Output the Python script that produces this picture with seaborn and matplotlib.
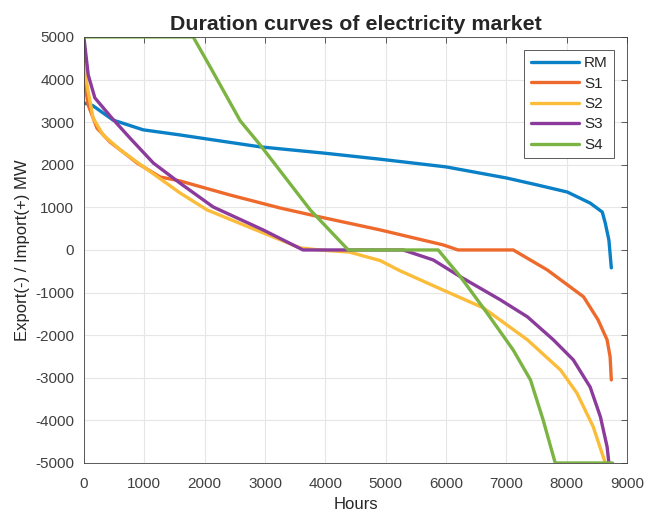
import numpy as np
import pandas as pd
import seaborn as sns
import matplotlib.pyplot as plt

# Duration curves (hours, MW)
rm_hours = [0, 144, 480, 980, 1590, 1920, 2920, 4000, 4910, 6000, 7000, 7500, 8010, 8390, 8590, 8640, 8700, 8740]
rm_mw = [3450, 3390, 3050, 2820, 2700, 2630, 2420, 2270, 2130, 1950, 1690, 1530, 1360, 1100, 890, 630, 230, -420]

s1_hours = [0, 70, 215, 430, 710, 880, 1260, 1590, 2420, 3250, 3910, 4910, 5950, 6200, 7115, 7680, 8280, 8520, 8670, 8720, 8740]
s1_mw = [4040, 3400, 2860, 2535, 2230, 2040, 1714, 1620, 1290, 985, 775, 470, 120, 0, 0, -470, -1100, -1640, -2110, -2510, -3050]

s2_hours = [0, 50, 150, 315, 600, 900, 1590, 2040, 2970, 3580, 3900, 4400, 4910, 5240, 5950, 6620, 7350, 7900, 8170, 8440, 8640]
s2_mw = [4530, 3870, 3100, 2700, 2350, 2040, 1340, 940, 400, 50, 0, -50, -250, -490, -940, -1360, -2110, -2820, -3360, -4150, -5000]

s3_hours = [0, 70, 180, 460, 760, 1150, 1590, 2140, 2970, 3630, 5290, 5790, 6240, 6900, 7350, 7780, 8110, 8390, 8560, 8670, 8700]
s3_mw = [4980, 4110, 3570, 3100, 2630, 2040, 1570, 1010, 470, 0, 0, -235, -630, -1170, -1570, -2110, -2580, -3220, -3920, -4620, -5000]

s4_hours = [0, 1810, 2090, 2590, 2920, 3750, 4380, 5870, 6240, 6680, 7115, 7400, 7610, 7810, 8760]
s4_mw = [5000, 5000, 4300, 3030, 2465, 940, 0, 0, -630, -1480, -2350, -3050, -3990, -5000, -5000]

series_names = ['RM', 'S1', 'S2', 'S3', 'S4']
series_hours = [rm_hours, s1_hours, s2_hours, s3_hours, s4_hours]
series_mw = [rm_mw, s1_mw, s2_mw, s3_mw, s4_mw]
colors = ['#0a80c6', '#ee6a2c', '#fbbc3a', '#8b3b9b', '#7bb443']

frames = []
for name, h, v in zip(series_names, series_hours, series_mw):
    frames.append(pd.DataFrame({'Hours': h, 'MW': v, 'Series': name}))
df = pd.concat(frames, ignore_index=True)

sns.set_style('white')
plt.rcParams['font.family'] = ['Liberation Sans', 'DejaVu Sans']
plt.rcParams['axes.unicode_minus'] = False

fig = plt.figure(figsize=(6.46, 5.13), dpi=100)
ax = fig.add_axes([0.130, 0.0975, 0.8406, 0.8305])

sns.lineplot(data=df, x='Hours', y='MW', hue='Series', hue_order=series_names,
             palette=dict(zip(series_names, colors)), sort=False,
             linewidth=2.4, estimator=None, solid_joinstyle='round', ax=ax)

ax.set_xlim(0, 9000)
ax.set_ylim(-5000, 5000)
ax.set_xticks(np.arange(0, 9001, 1000))
ax.set_yticks(np.arange(-5000, 5001, 1000))
ax.grid(True, color='#e6e6e6', linewidth=0.8)
ax.tick_params(direction='in', length=4, top=True, right=True,
               labelsize=11, colors='#404040', width=0.6)
ax.tick_params(axis='x', pad=10)
ax.tick_params(axis='y', pad=7)
for sp in ax.spines.values():
    sp.set_color('#404040')
    sp.set_linewidth(0.6)

ax.set_xlabel('Hours', fontsize=12, color='#262626', labelpad=4.5)
ax.set_ylabel('Export(-) / Import(+) MW', fontsize=12, color='#262626')
ax.set_title('Duration curves of electricity market', fontsize=15.4,
             fontweight='bold', pad=5)

leg = ax.legend(loc='upper right', bbox_to_anchor=(0.99, 0.987), fontsize=11,
                frameon=True, fancybox=False, handlelength=3.2,
                borderpad=0.4, labelspacing=0.42, handletextpad=0.3)
leg.get_frame().set_edgecolor('#404040')
leg.get_frame().set_linewidth(0.6)
leg.get_frame().set_alpha(1)
for line in leg.get_lines():
    line.set_linewidth(2.4)

fig.savefig('out.png', dpi=100)
